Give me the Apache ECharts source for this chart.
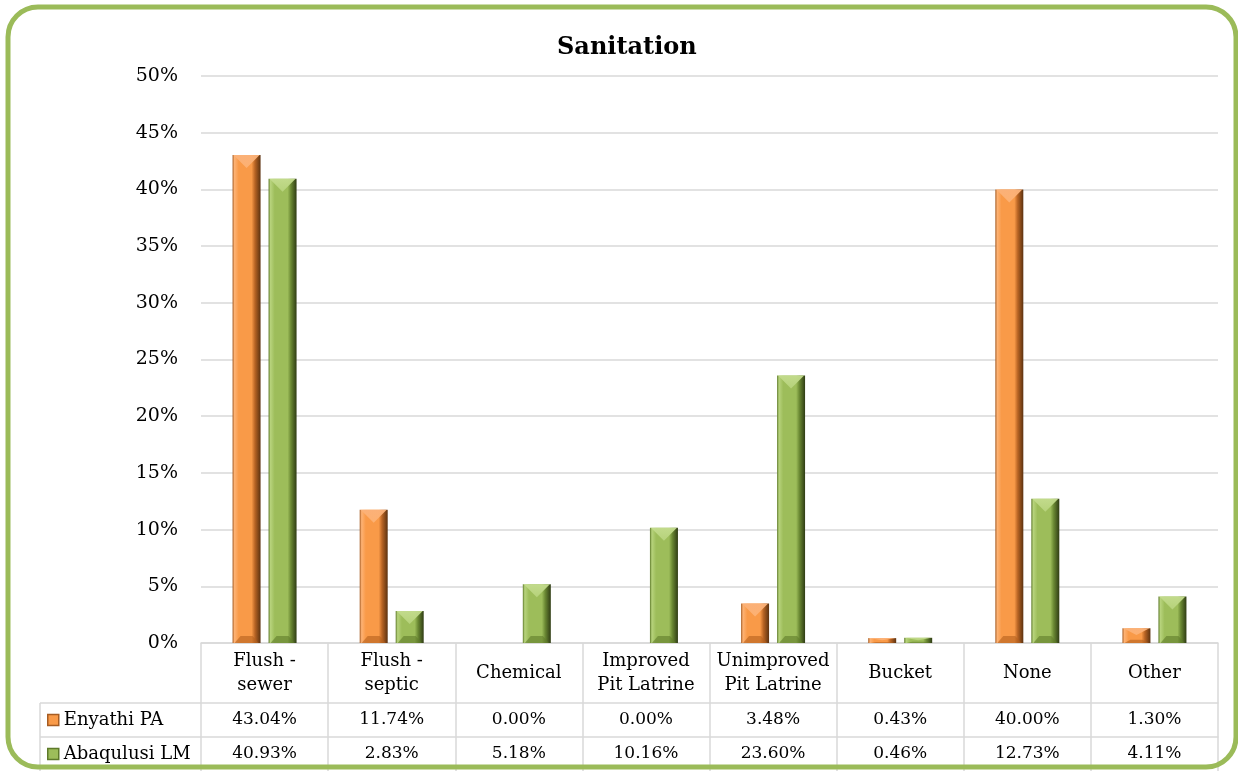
<!DOCTYPE html>
<html>
<head>
<meta charset="utf-8">
<script src="https://cdn.jsdelivr.net/npm/echarts@6/dist/echarts.min.js"></script>
<style>
  html, body { margin: 0; padding: 0; background: #fff; }
  #chart { width: 1238px; height: 771px; }
</style>
</head>
<body>
<div id="chart"></div>
<script>
// Sanitation type shares, in percent of households
const categories = ['Flush - sewer', 'Flush - septic', 'Chemical', 'Improved Pit Latrine',
  'Unimproved Pit Latrine', 'Bucket', 'None', 'Other'];
const categoryLines = [['Flush -', 'sewer'], ['Flush -', 'septic'], ['Chemical'], ['Improved', 'Pit Latrine'],
  ['Unimproved', 'Pit Latrine'], ['Bucket'], ['None'], ['Other']];
const enyathiPA = [43.04, 11.74, 0.00, 0.00, 3.48, 0.43, 40.00, 1.30];
const abaqulusiLM = [40.93, 2.83, 5.18, 10.16, 23.60, 0.46, 12.73, 4.11];
const seriesNames = ['Enyathi PA', 'Abaqulusi LM'];
const yTicks = [0, 5, 10, 15, 20, 25, 30, 35, 40, 45, 50];

const FONT = 'DejaVu Serif';
const GRID_LINE = '#D9D9D9';

const palettes = {
  orange: { base: '#F99A48', light: '#FDB274', edge: '#A65C22', dark: '#B86424', darkest: '#5C3210',
            top: '#FBB27A', bottom: '#B4601E' },
  green: { base: '#9DBD5A', light: '#B7D37C', edge: '#5E7A2A', dark: '#6A8833', darkest: '#2F3C14',
           top: '#C4DC8E', bottom: '#5F7C2A' }
};

// Bevelled column: shaded body, lighter top facet, darker bottom facet
function bevelBar(offset, pal) {
  return function (params, api) {
    const cat = api.value(0);
    const v = api.value(1);
    if (!(v > 0)) return;
    const base = api.coord([cat, 0]);
    const top = api.coord([cat, v]);
    const bw = 28;
    const x0 = base[0] + offset - bw / 2;
    const x1 = x0 + bw;
    const y0 = top[1];
    const y1 = base[1];
    const h = y1 - y0;
    const xc = (x0 + x1) / 2;
    const children = [{
      type: 'rect',
      shape: { x: x0, y: y0, width: bw, height: h },
      style: {
        fill: new echarts.graphic.LinearGradient(0, 0, 1, 0, [
          { offset: 0, color: pal.edge },
          { offset: 0.07, color: pal.light },
          { offset: 0.22, color: pal.base },
          { offset: 0.68, color: pal.base },
          { offset: 0.8, color: pal.dark },
          { offset: 1, color: pal.darkest }
        ])
      }
    }];
    if (h > 3) {
      const d = Math.min(13, h * 0.45);
      const b = Math.min(7, h * 0.22);
      children.push({
        type: 'polygon',
        shape: { points: [[x0 + 1, y0], [x1 - 1, y0], [xc, y0 + d]] },
        style: {
          fill: new echarts.graphic.LinearGradient(0, 0, 0, 1, [
            { offset: 0, color: pal.top },
            { offset: 1, color: pal.light }
          ]),
          opacity: 0.95
        }
      });
      children.push({
        type: 'polygon',
        shape: { points: [[x0 + 2, y1], [x1 - 2, y1], [x1 - 8, y1 - b], [x0 + 8, y1 - b]] },
        style: { fill: pal.bottom, opacity: 0.6 }
      });
    }
    return { type: 'group', children: children };
  };
}

const chart = echarts.init(document.getElementById('chart'), null, { renderer: 'canvas' });

function catLabel(value, index) {
  const lines = categoryLines[index];
  if (lines.length === 1) return '{one|' + lines[0] + '}';
  return lines.map(function (l) { return '{two|' + l + '}'; }).join('\n');
}

const option = {
  backgroundColor: '#ffffff',
  animation: false,
  title: {
    text: 'Sanitation',
    left: 552,
    top: 31,
    textStyle: { fontFamily: FONT, fontSize: 24, fontWeight: 'bold', color: '#000' }
  },
  legend: {
    orient: 'vertical',
    left: 47,
    top: 710,
    padding: 0,
    itemGap: 14,
    itemWidth: 11,
    itemHeight: 11,
    icon: 'rect',
    textStyle: { fontFamily: FONT, fontSize: 18, color: '#000', lineHeight: 20 },
    data: [
      { name: seriesNames[0], itemStyle: { color: palettes.orange.base, borderColor: palettes.orange.edge, borderWidth: 1.5 } },
      { name: seriesNames[1], itemStyle: { color: palettes.green.base, borderColor: palettes.green.edge, borderWidth: 1.5 } }
    ]
  },
  grid: { left: 201, right: 20, top: 76, bottom: 128, containLabel: false },
  xAxis: [
    {
      type: 'category',
      data: categories,
      position: 'bottom',
      axisLine: { show: true, lineStyle: { color: GRID_LINE, width: 1.5 } },
      axisTick: { show: true, length: 128, lineStyle: { color: GRID_LINE, width: 1.5 } },
      axisLabel: {
        margin: 6,
        interval: 0,
        formatter: catLabel,
        rich: {
          one: { fontFamily: FONT, fontSize: 18, lineHeight: 48, color: '#000' },
          two: { fontFamily: FONT, fontSize: 18, lineHeight: 24, color: '#000' }
        }
      }
    },
    {
      type: 'category',
      data: categories,
      position: 'bottom',
      offset: 60,
      axisLine: { show: true, lineStyle: { color: GRID_LINE, width: 1.5 } },
      axisTick: { show: false },
      axisLabel: {
        margin: 7, interval: 0,
        fontFamily: FONT, fontSize: 17, lineHeight: 20, color: '#000',
        formatter: function (v, i) { return enyathiPA[i].toFixed(2) + '%'; }
      }
    },
    {
      type: 'category',
      data: categories,
      position: 'bottom',
      offset: 94,
      axisLine: { show: true, lineStyle: { color: GRID_LINE, width: 1.5 } },
      axisTick: { show: false },
      axisLabel: {
        margin: 7, interval: 0,
        fontFamily: FONT, fontSize: 17, lineHeight: 20, color: '#000',
        formatter: function (v, i) { return abaqulusiLM[i].toFixed(2) + '%'; }
      }
    }
  ],
  yAxis: {
    type: 'value',
    min: yTicks[0],
    max: yTicks[yTicks.length - 1],
    interval: yTicks[1] - yTicks[0],
    axisLine: { show: false },
    axisTick: { show: false },
    splitLine: { show: true, lineStyle: { color: GRID_LINE, width: 1.5 } },
    axisLabel: {
      margin: 23,
      fontFamily: FONT, fontSize: 19, color: '#000',
      formatter: '{value}%'
    }
  },
  series: [
    {
      name: seriesNames[0],
      type: 'custom',
      xAxisIndex: 0,
      itemStyle: { color: palettes.orange.base },
      renderItem: bevelBar(-18, palettes.orange),
      encode: { x: 0, y: 1 },
      data: enyathiPA.map(function (v, i) { return [i, v]; })
    },
    {
      name: seriesNames[1],
      type: 'custom',
      xAxisIndex: 0,
      itemStyle: { color: palettes.green.base },
      renderItem: bevelBar(18, palettes.green),
      encode: { x: 0, y: 1 },
      data: abaqulusiLM.map(function (v, i) { return [i, v]; })
    }
  ],
  graphic: [
    // left column of the data table
    { type: 'line', shape: { x1: 40, y1: 703, x2: 201, y2: 703 }, style: { stroke: GRID_LINE, lineWidth: 1.5 }, z: 1 },
    { type: 'line', shape: { x1: 40, y1: 737, x2: 201, y2: 737 }, style: { stroke: GRID_LINE, lineWidth: 1.5 }, z: 1 },
    { type: 'line', shape: { x1: 40, y1: 703, x2: 40, y2: 771 }, style: { stroke: GRID_LINE, lineWidth: 1.5 }, z: 1 },
    // rounded frame
    {
      type: 'rect',
      shape: { x: 8, y: 7, width: 1228, height: 760, r: 30 },
      style: { fill: null, stroke: '#9BBB59', lineWidth: 5 },
      z: 100
    }
  ]
};

chart.setOption(option);
</script>
</body>
</html>
